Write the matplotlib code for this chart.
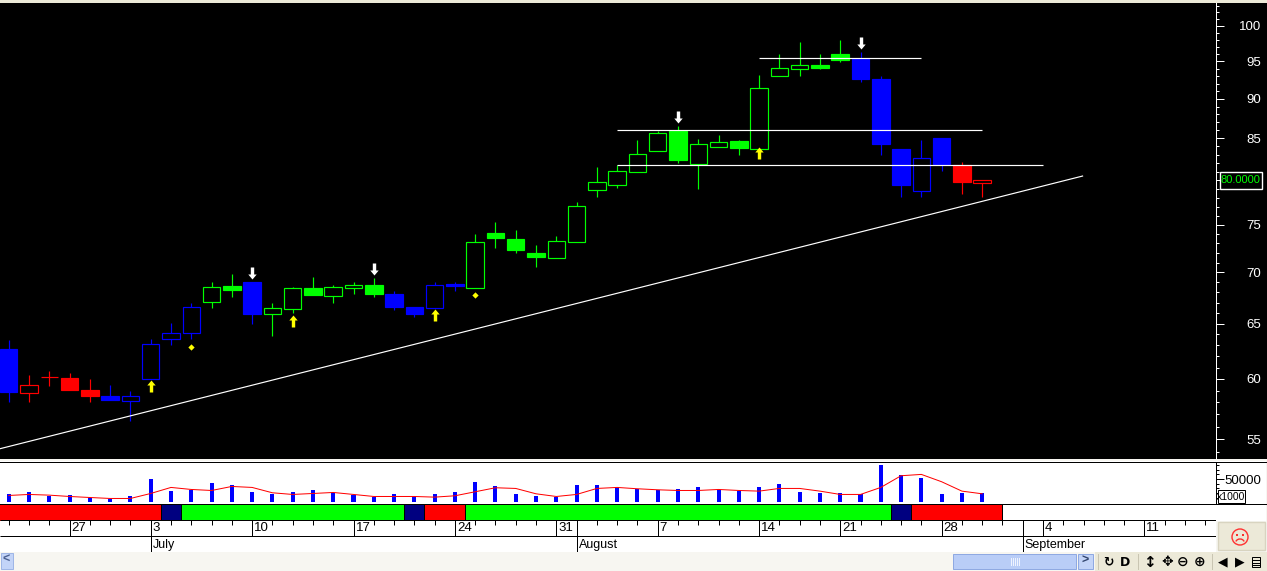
import matplotlib
matplotlib.use('Agg')
import matplotlib.pyplot as plt
import numpy as np
from matplotlib.patches import Rectangle, Circle, Arc
from matplotlib.ticker import NullFormatter

plt.rcParams['font.family'] = ['Liberation Sans', 'DejaVu Sans']

# Daily candles, first one sits 7 sessions before 3 July
opens = [62.67, 58.83, 60.15, 60.09, 59.06, 58.55, 58.15, 60.03, 63.55, 64.10,
         67.05, 68.64, 69.04, 65.87, 66.42, 68.45, 67.70, 68.48, 68.75, 67.86,
         66.59, 66.52, 68.85, 68.48, 74.07, 73.47, 72.00, 71.50, 73.19, 78.90,
         79.48, 80.99, 83.48, 85.90, 81.93, 83.97, 84.63, 83.73, 92.96, 94.01,
         94.50, 96.03, 95.34, 92.62, 83.69, 78.79, 85.03, 81.72, 79.70]
highs = [63.49, 60.35, 60.70, 60.53, 60.00, 59.49, 58.97, 63.58, 65.07, 66.95,
         69.01, 69.85, 69.04, 66.95, 68.55, 69.54, 68.75, 69.04, 69.44, 68.15,
         66.59, 69.01, 69.01, 73.99, 75.30, 74.40, 72.80, 73.80, 77.48, 81.54,
         81.78, 84.79, 85.90, 86.55, 84.92, 85.40, 84.79, 93.10, 96.03, 97.72,
         96.03, 97.99, 96.30, 93.03, 83.69, 84.79, 85.03, 82.08, 79.99]
lows = [58.04, 58.04, 59.43, 59.09, 58.04, 58.24, 56.47, 60.03, 63.03, 63.58,
        66.52, 67.59, 65.00, 63.89, 66.01, 67.80, 67.00, 67.90, 67.59, 66.30,
        65.63, 66.52, 68.10, 68.48, 72.55, 72.03, 70.58, 71.50, 73.19, 78.08,
        79.10, 80.99, 83.48, 82.05, 79.00, 83.97, 83.00, 83.73, 92.96, 93.03,
        93.93, 94.93, 92.22, 82.97, 78.08, 78.08, 81.07, 78.42, 78.08]
closes = [58.89, 59.46, 60.15, 59.09, 58.57, 58.24, 58.53, 63.09, 64.10, 66.56,
          68.52, 68.28, 65.95, 66.46, 68.42, 67.80, 68.52, 68.72, 67.90, 66.59,
          65.95, 68.72, 68.68, 73.12, 73.53, 72.34, 71.58, 73.23, 77.03, 79.75,
          81.04, 83.05, 85.60, 82.40, 84.26, 84.50, 83.85, 91.48, 94.06, 94.47,
          94.10, 95.20, 92.62, 84.30, 79.45, 82.57, 81.84, 79.79, 79.99]
regimes = (['b'] + ['r'] * 4 + ['b'] * 5 + ['g'] * 2 + ['b'] + ['g'] * 6 + ['b'] * 4
           + ['g'] * 19 + ['b'] * 5 + ['r'] * 2)

volume = [17400, 21700, 13800, 15200, 9400, 6500, 13000, 50000, 23900, 26800,
          40600, 37000, 21700, 16700, 21700, 26100, 20300, 15900, 11600, 17400,
          11600, 17400, 21700, 43500, 34800, 17400, 13000, 11600, 37000, 37000,
          30400, 28300, 26100, 28300, 32600, 26800, 23900, 32600, 39100, 21700,
          19600, 19600, 16700, 80400, 58700, 51500, 16700, 19600, 19600]
volume_avg = [14500, 16700, 15200, 12300, 10100, 8000, 8000, 18800, 31900, 27500,
              25300, 34000, 31900, 20300, 16700, 18800, 21000, 16700, 12300, 12300,
              12300, 10900, 13800, 22500, 31200, 29700, 18100, 12300, 16700, 29700,
              31900, 29000, 26800, 25300, 25300, 27500, 25300, 23900, 29700, 29700,
              23900, 16700, 16700, 31900, 57200, 60100, 44200, 23900, 18100]

price_ticks = [55, 60, 65, 70, 75, 80, 85, 90, 95, 100]
price_labels = ['55', '60', '65', '70', '75', '', '85', '90', '95', '100']
last_price = 80.0

# Trend line and the three support / resistance levels
trend_days = [-7.46, 45.95]
trend_prices = [54.23, 80.48]
level_prices = [95.45, 85.98, 81.80]
level_starts = [30, 23, 23]
level_ends = [38, 41, 44]

# Signals on the candles
sell_days = [5, 11, 26, 35]
sell_prices = [69.95, 70.35, 87.60, 97.57]
buy_days = [0, 7, 14, 30]
buy_prices = [59.40, 65.25, 65.80, 83.15]
dot_days = [2, 16]
dot_prices = [62.85, 67.76]

# Regime strip under the volume
strip_edges = [-8, 0.5, 1.5, 12.5, 13.5, 15.5, 36.5, 37.5, 42]
strip_colors = ['#ff0000', '#000080', '#00ff00', '#000080', '#ff0000', '#00ff00',
                '#000080', '#ff0000']

# Calendar rows
week_ticks = [-4, 0, 5, 10, 15, 20, 25, 30, 34, 39, 44, 49]
week_labels = ['27', '3', '10', '17', '24', '31', '7', '14', '21', '28', '4', '11']
month_ticks = [0, 21, 43]
month_labels = ['July', 'August', 'September']

W, H = 1267, 571
PLOT_R = 1216
X0, DX = 150.7, 20.28
xlim = ((0 - X0) / DX, (PLOT_R - X0) / DX)
ALL_DAYS = np.arange(-7, 53)
days = np.arange(len(closes)) - 7
colors = {'b': '#0000ff', 'r': '#ff0000', 'g': '#00ff00'}
PX = 0.72  # one pixel in points at dpi 100


def panel(left, top, right, bottom, **kw):
    return fig.add_axes([left / W, 1 - bottom / H, (right - left) / W, (bottom - top) / H], **kw)


fig = plt.figure(figsize=(W / 100, H / 100), dpi=100)
fig.patch.set_facecolor('#f7f6f1')

# Window background behind the panels
bg = fig.add_axes([0, 0, 1, 1], zorder=-5)
bg.set_xlim(0, W)
bg.set_ylim(H, 0)
bg.axis('off')
bg.add_patch(Rectangle((0, 0), W, 3, fc='#ece9d8', ec='none'))
bg.add_patch(Rectangle((0, 3), W, 456, fc='black', ec='none'))
bg.add_patch(Rectangle((0, 461), W - 1, 60, fc='white', ec='none'))
bg.add_patch(Rectangle((0, 521), PLOT_R, 31, fc='white', ec='none'))
bg.add_patch(Rectangle((1095, 552), W - 1095, 19, fc='#ece9d8', ec='none'))
bg.plot([0, W - 1], [462, 462], color='black', lw=PX)
bg.plot([0, W - 1], [503.5, 503.5], color='black', lw=PX)

# Price panel
ax = panel(0, 3, PLOT_R, 459, zorder=2)
ax.set_facecolor('black')
ax.set_yscale('log')
ax.set_xlim(*xlim)
ax.set_ylim(53.44, 103.38)

bar_colors = [colors[r] for r in regimes]
ax.vlines(days, lows, highs, colors=bar_colors, lw=0.85, zorder=2)
for d, o, c, col in zip(days, opens, closes, bar_colors):
    hollow = c >= o
    ax.bar(d, abs(c - o), bottom=min(o, c), width=0.86,
           facecolor='black' if hollow else col, edgecolor=col,
           linewidth=0.85, zorder=3)

ax.plot(trend_days, trend_prices, color='white', lw=0.85, zorder=5)
ax.hlines(level_prices, level_starts, level_ends, colors='white', lw=0.85, zorder=5)

# Arrow shapes for the buy and sell signals
up_arrow = [(-1.7, -6), (1.7, -6), (1.7, 1), (4.2, 1), (0, 6), (-4.2, 1), (-1.7, 1)]
down_arrow = [(-1.7, 6), (1.7, 6), (1.7, -1), (4.2, -1), (0, -6), (-4.2, -1), (-1.7, -1)]
ax.plot(sell_days, sell_prices, ls='none', marker=down_arrow, ms=12 * PX,
        color='white', mew=0, zorder=6)
ax.plot(buy_days, buy_prices, ls='none', marker=up_arrow, ms=12 * PX,
        color='#ffff00', mew=0, zorder=6)
ax.plot(dot_days, dot_prices, ls='none', marker='D', ms=3.2,
        color='#ffff00', mew=0, zorder=6)

for side in ['top', 'left', 'bottom']:
    ax.spines[side].set_visible(False)
ax.spines['right'].set_color('white')
ax.spines['right'].set_linewidth(PX)
ax.set_xticks([])
ax.set_xticks([], minor=True)
ax.yaxis.tick_right()
ax.set_yticks(price_ticks, price_labels)
ax.set_yticks([p for p in range(54, 104) if p % 5 != 0], minor=True)
ax.yaxis.set_minor_formatter(NullFormatter())
ax.tick_params(axis='y', which='major', colors='white', length=8 * PX, width=PX,
               pad=26.6, labelsize=9.5)
ax.tick_params(axis='y', which='minor', colors='white', length=3 * PX, width=PX)
for t in ax.yaxis.get_majorticklabels():
    t.set_ha('right')

# Volume panel
vax = panel(0, 462, PLOT_R, 503.5, zorder=2)
vax.patch.set_alpha(0)
vax.set_xlim(*xlim)
vax.set_ylim(-2900, 86960)
vax.bar(days, volume, width=0.2, color='#0000ff', zorder=2)
vax.plot(days, volume_avg, color='#ff0000', lw=PX, zorder=3)
for side in ['top', 'left', 'bottom']:
    vax.spines[side].set_visible(False)
vax.spines['right'].set_linewidth(PX)
vax.set_xticks([])
vax.yaxis.tick_right()
vax.set_yticks([50000], ['50000'])
vax.set_yticks(np.arange(10000, 90000, 10000), minor=True)
vax.yaxis.set_minor_formatter(NullFormatter())
vax.tick_params(axis='y', which='major', length=8 * PX, width=PX, pad=26.6, labelsize=9.5)
vax.tick_params(axis='y', which='minor', length=3 * PX, width=PX)
for t in vax.yaxis.get_majorticklabels():
    t.set_ha('right')

# Regime strip
sax = panel(0, 503.5, PLOT_R, 520.5, zorder=2)
sax.set_xlim(*xlim)
sax.set_ylim(0, 1)
sax.patch.set_alpha(0)
sax.barh(0.5, np.diff(strip_edges), left=strip_edges[:-1], height=1, color=strip_colors,
         edgecolor='black', linewidth=PX)
sax.axis('off')

# Calendar rows: y=2 is the top of the weeks row, y=0 the bottom of the months row
dax = panel(0, 520, PLOT_R, 552, zorder=2)
dax.patch.set_alpha(0)
dax.set_xlim(*xlim)
dax.set_ylim(0, 2)
dax.axis('off')
dax.hlines([2, 1], *xlim, colors='black', lw=PX)
dax.vlines(ALL_DAYS, 1.69, 2, colors='black', lw=PX)
dax.vlines(week_ticks, 1, 2, colors='black', lw=PX)
dax.vlines(month_ticks, 0, 2, colors='black', lw=PX)
for d, s in zip(week_ticks, week_labels):
    dax.text(d + 0.1, 1.47, s, fontsize=9.5, ha='left', va='center', color='black')
for d, s in zip(month_ticks, month_labels):
    dax.text(d + 0.1, 0.45, s, fontsize=9, ha='left', va='center', color='black')

# Everything drawn by the application around the chart
top = fig.add_axes([0, 0, 1, 1], zorder=10)
top.set_xlim(0, W)
top.set_ylim(H, 0)
top.axis('off')
top.patch.set_alpha(0)

top.add_patch(Rectangle((1219.5, 171.5), 42, 17, fc='black', ec='white', lw=1.0))
top.text(1240.5, 180.3, f'{last_price:.4f}', color='#00ff00', fontsize=8,
         ha='center', va='center')

top.add_patch(Rectangle((1217.5, 490), 27.5, 12.5, fc='white', ec='black', lw=PX))
top.text(1231.5, 496.5, 'x1000', color='black', fontsize=7.5, ha='center', va='center')

top.add_patch(Rectangle((1218, 522), 47, 28, fc='#ece9d8', ec='#d8d4c0', lw=1.0))
top.add_patch(Circle((1240, 537), 8, fc='none', ec='#ff3030', lw=1.0))
top.add_patch(Circle((1237, 535), 1, fc='#ff0000', ec='none'))
top.add_patch(Circle((1243, 535), 1, fc='#ff0000', ec='none'))
top.add_patch(Arc((1240, 543), 9, 8, theta1=200, theta2=340, ec='#ff3030', lw=1.0))

# Scroll bar
top.add_patch(Rectangle((0.5, 552.5), 12, 16, fc='#c3d4f8', ec='#9fb6e6', lw=PX))
top.text(6, 560, '<', fontsize=9, fontweight='bold', color='#4a5f90', ha='center', va='center')
top.add_patch(Rectangle((953, 554), 123, 15, fc='#b9cdf7', ec='#8fa9e2', lw=PX))
for gx in [1011, 1013, 1015, 1017, 1019]:
    top.plot([gx, gx], [558, 565], color='#eef3fe', lw=PX)
top.add_patch(Rectangle((1078, 554), 15, 15, fc='#c3d4f8', ec='#8fa9e2', lw=PX))
top.text(1085.5, 561, '>', fontsize=9, fontweight='bold', color='#33466f', ha='center', va='center')

# Toolbar
for sx in [1098, 1138, 1212]:
    top.plot([sx, sx], [554, 569], color='#c9c5b2', lw=PX)
icons = [(1108, '↻', 9), (1125, 'D', 9), (1149, '↕', 11), (1167, '✥', 10),
         (1183, '⊖', 10), (1200, '⊕', 10), (1223, '◀', 9), (1240, '▶', 9)]
for ix, icon, size in icons:
    top.text(ix, 562, icon, fontsize=size, fontweight='bold', color='black',
             ha='center', va='center', family='DejaVu Sans')
top.add_patch(Rectangle((1252, 557), 8, 10, fc='none', ec='black', lw=PX))
for ly in [560, 562.5, 565]:
    top.plot([1253, 1259], [ly, ly], color='black', lw=PX)

plt.savefig('out.png', dpi=100, facecolor=fig.get_facecolor())
